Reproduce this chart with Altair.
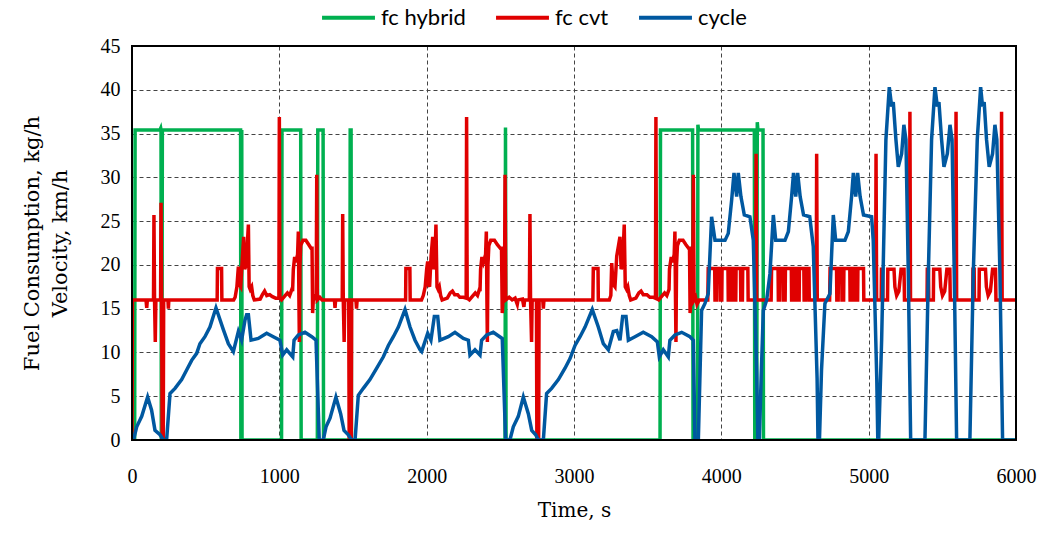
import altair as alt
import pandas as pd

series_names = ["fc hybrid", "fc cvt", "cycle"]
series_colors = ["#00B050", "#E00000", "#0058A0"]
x_ticks = [0, 1000, 2000, 3000, 4000, 5000, 6000]
y_ticks = [0, 5, 10, 15, 20, 25, 30, 35, 40, 45]

hybrid_points = [
    (0, 0), (18, 0), (21, 35.4), (190, 35.4), (195, 35.6), (197, 35.4), (199, 0), (203, 0), (206, 35.4),
    (737, 35.4), (739, 0), (741, 35.4), (743, 0), (745, 35.4), (747, 0), (750, 0),
    (1015, 0), (1018, 35.4), (1145, 35.4), (1148, 0), (1258, 0), (1261, 35.4), (1297, 35.4), (1300, 0),
    (1478, 0), (1481, 35.4), (1487, 35.4), (1490, 0), (2532, 0), (2535, 35.7), (2539, 0),
    (3584, 0), (3587, 35.4), (3805, 35.4), (3808, 0), (3838, 0), (3841, 36.0), (3845, 35.4),
    (4224, 35.4), (4227, 0), (4240, 0), (4244, 36.3), (4248, 35.4), (4283, 35.4), (4286, 0), (6000, 0),
]

cvt_points = [
    (0, 0), (3, 16), (95, 16), (100, 15.1), (104, 16), (146, 16), (149, 25.7), (153, 16), (158, 11.2), (162, 16),
    (194, 16), (197, 27.1), (201, 16), (205, 0), (212, 0), (215, 16), (244, 16), (247, 15), (250, 16),
    (578, 16), (580, 19.6), (608, 19.6), (610, 16), (690, 16), (700, 16.3), (712, 17.5), (722, 19.8), (728, 17.8),
    (738, 17.5), (748, 20.5), (758, 23.2), (765, 19.5), (775, 20), (790, 24.6), (795, 17.5), (802, 17.2),
    (812, 17.5), (820, 16.5), (830, 16), (870, 16.1), (885, 16.6), (900, 17), (915, 16.5), (935, 16.6),
    (950, 16.4), (975, 16.2), (997, 16.2), (1000, 36.9), (1004, 16.2), (1015, 16), (1035, 16.4), (1055, 16.8),
    (1070, 16.5), (1085, 17.2), (1090, 17), (1095, 19.5), (1104, 20.9), (1112, 20.3), (1124, 21.2), (1129, 23.8),
    (1133, 16), (1136, 11.2), (1140, 20), (1145, 22.2), (1160, 22.8), (1180, 22.8), (1200, 22.3), (1215, 21.9),
    (1222, 21.9), (1226, 14.5), (1232, 16.5), (1245, 16.3), (1250, 16), (1254, 30.3), (1258, 16), (1275, 16.3),
    (1290, 16), (1374, 16), (1378, 15.1), (1382, 16), (1427, 16), (1430, 25.8), (1434, 16), (1440, 11.2),
    (1444, 16), (1471, 16), (1474, 0), (1488, 0), (1491, 16), (1520, 16), (1524, 15), (1528, 16),
    (1857, 16), (1859, 19.6), (1886, 19.6), (1888, 16),
    (1965, 16), (1977, 16.5), (1990, 17.5), (2000, 19.5), (2007, 20.4), (2013, 17.8), (2020, 17.5), (2030, 21),
    (2041, 23.2), (2048, 19.5), (2055, 20), (2063, 24.6), (2070, 17.5), (2078, 17.2), (2086, 17.5), (2095, 16.5),
    (2105, 16), (2140, 16.2), (2160, 16.8), (2175, 17), (2190, 16.6), (2210, 16.6), (2225, 16.3), (2250, 16.3),
    (2268, 16.2), (2271, 36.9), (2275, 16.2), (2290, 16), (2310, 16.4), (2330, 16.8), (2345, 16.5), (2358, 17.2),
    (2362, 17), (2366, 19.5), (2375, 20.9), (2385, 20.3), (2400, 21.2), (2405, 23.8), (2409, 16), (2412, 11.2),
    (2416, 20), (2422, 22.2), (2435, 22.8), (2460, 22.8), (2480, 22.3), (2500, 21.9), (2508, 21.9), (2513, 14.5),
    (2520, 16.5), (2528, 16), (2532, 30.3), (2537, 16), (2560, 16.3), (2580, 16), (2600, 16.2), (2615, 15.5),
    (2620, 16), (2650, 16.1), (2660, 15.2), (2665, 16), (2697, 16), (2701, 25.8), (2705, 16), (2712, 11.2),
    (2716, 16), (2745, 16), (2748, 0), (2760, 0), (2763, 16), (2788, 16), (2792, 15), (2796, 16),
    (3128, 16), (3131, 19.6), (3163, 19.6), (3165, 16), (3240, 16), (3250, 16.5), (3256, 20.2), (3265, 17.8),
    (3278, 17.5), (3290, 21), (3312, 23.2), (3320, 19.5), (3330, 20), (3341, 24.6), (3348, 17.5), (3357, 17.2),
    (3365, 17.5), (3375, 16.5), (3385, 16), (3420, 16.2), (3440, 16.8), (3455, 17), (3470, 16.6), (3495, 16.6),
    (3515, 16.3), (3540, 16.3), (3553, 16.2), (3556, 36.9), (3560, 16.2), (3575, 16), (3595, 16.4), (3615, 16.8),
    (3630, 16.5), (3645, 17.2), (3648, 19.5), (3660, 20.9), (3670, 20.3), (3680, 21.2), (3685, 23.8), (3689, 16),
    (3692, 11.2), (3696, 20), (3702, 22.2), (3715, 22.8), (3740, 22.8), (3760, 22.3), (3778, 21.9), (3784, 21.9),
    (3788, 14.5), (3795, 16.5), (3805, 16), (3810, 30.3), (3815, 16), (3825, 16.3), (3835, 15.5), (3850, 16),
    (3908, 16), (3911, 19.6), (3955, 19.6), (3957, 16), (3966, 16), (3968, 19.6), (3990, 19.6), (3992, 16),
    (4003, 16), (4005, 19.6), (4045, 19.6), (4047, 16), (4063, 16), (4065, 19.6), (4080, 19.6), (4082, 16),
    (4098, 16), (4100, 19.6), (4130, 19.6), (4132, 16), (4143, 16), (4145, 19.6), (4180, 19.6), (4182, 16),
    (4233, 16), (4236, 32.7), (4240, 16),
    (4338, 16), (4341, 19.6), (4385, 19.6), (4387, 16), (4396, 16), (4398, 19.6), (4420, 19.6), (4422, 16),
    (4433, 16), (4435, 19.6), (4475, 19.6), (4477, 16), (4493, 16), (4495, 19.6), (4510, 19.6), (4512, 16),
    (4528, 16), (4530, 19.6), (4560, 19.6), (4562, 16), (4573, 16), (4575, 19.6), (4595, 19.6), (4597, 16),
    (4644, 16), (4647, 32.7), (4651, 16),
    (4735, 16), (4738, 19.6), (4782, 19.6), (4784, 16), (4793, 16), (4795, 19.6), (4817, 19.6), (4819, 16),
    (4830, 16), (4832, 19.6), (4872, 19.6), (4874, 16), (4890, 16), (4892, 19.6), (4907, 19.6), (4909, 16),
    (4925, 16), (4927, 19.6), (4965, 19.6), (4967, 16), (5047, 16), (5050, 32.7), (5054, 16),
    (5085, 16), (5087, 19.5), (5095, 19.5), (5097, 16), (5128, 16), (5130, 19.5), (5172, 19.5), (5178, 17.5),
    (5190, 16.5), (5205, 17), (5220, 19.5), (5240, 19.5), (5243, 16), (5277, 16), (5280, 37.5), (5284, 16),
    (5396, 16), (5398, 19.5), (5406, 19.5), (5408, 16), (5439, 16), (5441, 19.5), (5483, 19.5), (5489, 17.5),
    (5501, 16.5), (5516, 17), (5531, 19.5), (5551, 19.5), (5554, 16), (5590, 16), (5593, 37.5), (5597, 16),
    (5706, 16), (5708, 19.5), (5716, 19.5), (5718, 16), (5749, 16), (5751, 19.5), (5793, 19.5), (5799, 17.5),
    (5811, 16.5), (5826, 17), (5841, 19.5), (5861, 19.5), (5864, 16), (5899, 16), (5902, 37.5), (5906, 16),
    (6000, 16),
]

cycle_points = [
    (0, 0), (10, 0), (32, 1.5), (66, 2.7), (106, 4.9), (133, 3.4), (156, 1.1), (190, 0.6), (213, 0), (235, 0),
    (258, 5.3), (292, 5.9), (337, 6.9), (371, 8.0), (405, 9.1), (439, 9.9), (461, 11.0), (495, 11.8), (529, 12.9),
    (570, 15.1), (620, 12.6), (654, 11.0), (688, 10.1), (722, 12.4), (744, 11.4), (767, 13.7), (778, 14.3),
    (790, 14.3), (808, 11.4), (857, 11.6), (914, 12.2), (959, 11.8), (1004, 11.4), (1023, 9.7), (1050, 10.3),
    (1091, 9.5), (1100, 11.4), (1129, 12.0), (1174, 12.3), (1220, 11.8), (1249, 11.4), (1271, 0), (1298, 0),
    (1317, 1.5), (1344, 2.5), (1384, 4.9), (1416, 3.0), (1439, 1.1), (1468, 0.6), (1491, 0), (1514, 0),
    (1536, 5.1), (1570, 5.9), (1615, 6.9), (1661, 8.2), (1706, 9.5), (1740, 10.8), (1774, 11.8), (1808, 12.9),
    (1853, 14.9), (1887, 12.9), (1921, 11.4), (1955, 10.3), (1966, 10.1), (2007, 12.2), (2029, 11.4),
    (2052, 14.1), (2075, 14.1), (2090, 11.4), (2147, 11.8), (2192, 12.3), (2249, 11.6), (2283, 11.4),
    (2294, 9.7), (2328, 10.3), (2362, 9.7), (2373, 11.4), (2407, 12.0), (2452, 12.3), (2513, 11.6), (2536, 0),
    (2565, 0), (2588, 1.5), (2622, 2.7), (2656, 4.9), (2690, 3.0), (2713, 1.1), (2740, 0.6), (2758, 0),
    (2792, 0), (2814, 5.3), (2848, 5.9), (2894, 6.9), (2939, 8.2), (2973, 9.3), (3007, 10.8), (3041, 11.8),
    (3075, 12.9), (3124, 14.9), (3165, 12.9), (3199, 11.0), (3233, 10.3), (3267, 12.4), (3290, 12.5),
    (3312, 11.4), (3330, 14.1), (3353, 14.1), (3369, 11.4), (3414, 11.8), (3470, 12.3), (3527, 11.8),
    (3566, 11.2), (3579, 9.5), (3606, 10.3), (3640, 9.5), (3651, 11.4), (3685, 12.0), (3731, 12.3),
    (3787, 11.8), (3810, 11.4), (3821, 0), (3844, 0), (3866, 14.8), (3889, 15.6), (3911, 16.7), (3934, 25.5),
    (3957, 22.8), (4025, 22.8), (4047, 23.6), (4070, 27.4), (4086, 30.5), (4104, 27.8), (4115, 30.5),
    (4133, 27.8), (4156, 25.7), (4194, 25.5), (4217, 22.8), (4240, 7.6), (4248, 0), (4258, 0), (4270, 7.0),
    (4285, 14.8), (4308, 16.0), (4330, 19.0), (4353, 25.7), (4369, 22.8), (4432, 22.8), (4455, 23.8),
    (4477, 27.8), (4490, 30.5), (4505, 27.8), (4518, 30.5), (4535, 27.8), (4558, 25.7), (4600, 25.5),
    (4624, 22.1), (4650, 7.0), (4656, 0), (4666, 0), (4680, 8.0), (4703, 15.6), (4737, 16.7), (4760, 25.7),
    (4776, 22.8), (4839, 22.8), (4862, 23.8), (4884, 27.8), (4896, 30.5), (4912, 27.8), (4925, 30.5),
    (4942, 27.8), (4965, 25.7), (5020, 25.5), (5031, 22.8), (5055, 7.0), (5062, 0), (5068, 0), (5088, 11.4),
    (5117, 34.3), (5140, 40.3), (5156, 38.1), (5167, 38.6), (5185, 34.3), (5201, 31.2), (5224, 32.7),
    (5239, 36.0), (5253, 34.3), (5269, 19.0), (5285, 0), (5382, 0), (5405, 19.0), (5427, 34.3), (5450, 40.3),
    (5466, 38.1), (5477, 38.6), (5495, 34.3), (5511, 31.2), (5534, 32.7), (5552, 36.0), (5566, 34.3),
    (5581, 19.0), (5597, 0), (5687, 0), (5710, 19.0), (5737, 34.3), (5760, 40.3), (5773, 38.1), (5784, 38.6),
    (5800, 34.3), (5818, 31.2), (5841, 32.7), (5857, 36.0), (5870, 34.3), (5891, 19.0), (5909, 0), (6000, 0),
]

rows = []
for name, pts in zip(series_names, [hybrid_points, cvt_points, cycle_points]):
    for i, (t, v) in enumerate(pts):
        rows.append({"series": name, "t": t, "v": v, "i": i})
df = pd.DataFrame(rows)

serif = "Liberation Serif, Times New Roman, serif"
title_serif = "DejaVu Serif, serif"
PLOT_W, PLOT_H = 884, 394

color = alt.Color(
    "series:N",
    scale=alt.Scale(domain=series_names, range=series_colors),
    legend=alt.Legend(
        title=None,
        orient="none",
        direction="horizontal",
        legendX=188,
        legendY=-57,
        symbolType="stroke",
        symbolSize=2800,
        symbolStrokeWidth=4,
        labelFont="Lato, Liberation Sans, Arial",
        labelFontSize=22,
        labelColor="black",
        labelOffset=4,
        columnPadding=22,
        padding=0,
    ),
)

base = alt.Chart(df).mark_line(strokeWidth=3.5, clip=True).encode(
    x=alt.X(
        "t:Q",
        scale=alt.Scale(domain=[0, 6000], nice=False),
        axis=alt.Axis(
            values=x_ticks, title="Time, s", format="d", labelFlush=False,
            labelFont=serif, labelFontSize=20, labelColor="black", labelPadding=26,
            titleFont=title_serif, titleFontSize=20, titleFontWeight="normal", titleColor="black",
            titlePadding=14, ticks=False, domain=False,
            grid=True, gridDash=[4, 3], gridColor="#444", gridWidth=1,
        ),
    ),
    y=alt.Y(
        "v:Q",
        scale=alt.Scale(domain=[0, 45], nice=False),
        axis=alt.Axis(
            values=y_ticks, title=["Fuel Consumption, kg/h", "Velocity, km/h"], labelFlush=False,
            labelFont=serif, labelFontSize=20, labelColor="black", labelPadding=12,
            titleFont=title_serif, titleFontSize=21, titleFontWeight="normal", titleColor="black",
            titlePadding=30, titleLineHeight=28, ticks=False, domain=False,
            grid=True, gridDash=[4, 3], gridColor="#444", gridWidth=1,
        ),
    ),
    color=color,
    order="i:Q",
)

layers = [base.transform_filter(alt.datum.series == s) for s in series_names]

frame = alt.Chart(pd.DataFrame({"k": [0]})).mark_rect(
    fill=None, stroke="black", strokeWidth=2
).encode(
    x=alt.value(0), x2=alt.value(PLOT_W), y=alt.value(0), y2=alt.value(PLOT_H)
)

chart = alt.layer(*layers, frame).properties(
    width=PLOT_W,
    height=PLOT_H,
    autosize=alt.AutoSizeParams(type="none"),
    padding={"left": 132, "top": 46, "right": 40, "bottom": 97},
    background="white",
).configure_view(stroke="black", strokeWidth=2)

chart.save("out.html", embed_options={"renderer": "svg", "actions": False})
